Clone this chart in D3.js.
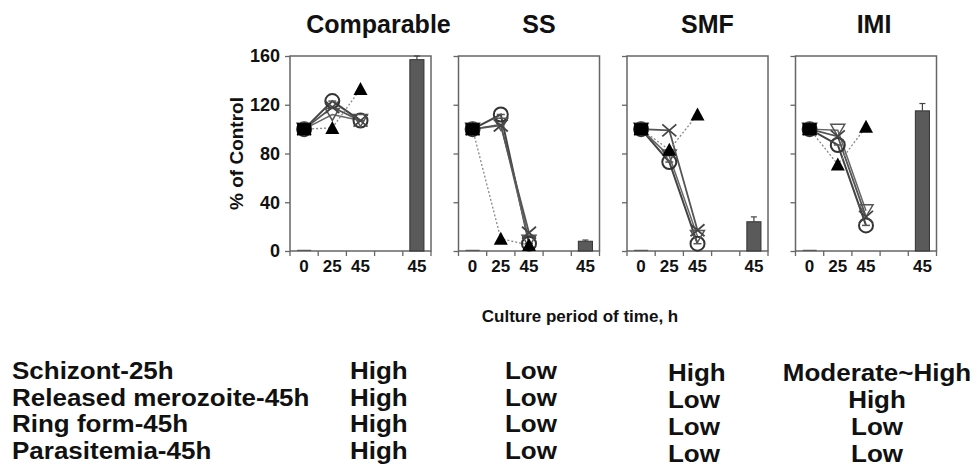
<!DOCTYPE html>
<html>
<head>
<meta charset="utf-8">
<script src="https://cdn.jsdelivr.net/npm/d3@7"></script>
<style>
  body { margin: 0; background: #fff; }
  text { font-family: "Liberation Sans", Arial, Helvetica, sans-serif; font-weight: bold; }
</style>
</head>
<body>
<div id="chart"></div>
<script>
// panels and x categories
var panels = ["Comparable", "SS", "SMF", "IMI"];
var timeCats = ["0", "25", "45", "gap", "45b"];
var timeLabels = ["0", "25", "45", "", "45"];
var lineCats = ["0", "25", "45"];
var yTicks = [0, 40, 80, 120, 160];

// % of control, one array per marker series (per panel: 0h, 25h, 45h)
var circleVals = [[100, 123, 107], [100, 112, 6], [100, 73, 6], [100, 87, 21]];
var crossVals = [[100, 118, 107], [100, 103, 15], [100, 99, 17], [100, 94, 28]];
var downTriVals = [[100, 112, 107], [100, 104, 8], [100, 78, 12], [100, 99, 33]];
var upTriVals = [[100, 101, 133], [100, 10, 5], [100, 83, 112], [100, 71, 102]];

// parasitemia bars at 45h (and the flat control bar at 0h)
var barVals = [157, 8, 24, 115];
var barErr = [3, 1, 4, 6];
var zeroBarVals = [1, 1, 1, 1];

// summary table
var rowNames = ["Schizont-25h", "Released merozoite-45h", "Ring form-45h", "Parasitemia-45h"];
var colComparable = ["High", "High", "High", "High"];
var colSS = ["Low", "Low", "Low", "Low"];
var colSMF = ["High", "Low", "Low", "Low"];
var colIMI = ["Moderate~High", "High", "Low", "Low"];

var svgWidth = 974, svgHeight = 469;
var svg = d3.select("#chart").append("svg")
    .attr("width", svgWidth)
    .attr("height", svgHeight);

var panelW = 141, plotTop = 56, plotBottom = 251;
var panelX = d3.scalePoint().domain(panels).range([290, 795.5]);
var titleShift = [18, 10, 10, 8];

var x = d3.scaleBand().domain(timeCats).range([0, panelW]);
var y = d3.scaleLinear().domain([0, 160]).range([plotBottom, plotTop]);

var series = [
  { vals: circleVals, shape: "circle", stroke: "#444", width: 2, dash: null },
  { vals: downTriVals, shape: "down", stroke: "#666", width: 1.5, dash: null },
  { vals: crossVals, shape: "cross", stroke: "#555", width: 1.8, dash: null },
  { vals: upTriVals, shape: "up", stroke: "#888", width: 1.3, dash: "2,2" }
];

var lineGen = d3.line()
    .x(function(d) { return x(d.t) + x.bandwidth() / 2; })
    .y(function(d) { return y(d.v); });

panels.forEach(function(name, i) {
  var g = svg.append("g").attr("transform", "translate(" + panelX(name) + ",0)");

  // title
  svg.append("text")
    .attr("x", panelX(name) + panelW / 2 + titleShift[i])
    .attr("y", 33)
    .attr("text-anchor", "middle")
    .attr("font-size", "25px")
    .attr("fill", "#111")
    .text(name);

  // axes
  var yAxis = d3.axisLeft(y).tickValues(yTicks).tickSize(5).tickFormat(i === 0 ? d3.format("d") : "");
  var ya = g.append("g").call(yAxis);
  ya.select(".domain").remove();
  ya.selectAll("line").attr("stroke", "#666").attr("stroke-width", 1.3);
  ya.selectAll("text").attr("font-size", "18px").attr("fill", "#111").attr("dx", "-2");

  var xAxis = d3.axisBottom(x).tickSize(0).tickFormat(function(d, k) { return timeLabels[k]; });
  var xa = g.append("g").attr("transform", "translate(0," + plotBottom + ")").call(xAxis);
  xa.select(".domain").remove();
  xa.selectAll("text").attr("font-size", "17px").attr("fill", "#111").attr("dy", "1.05em");
  // ticks at band edges
  g.selectAll(".xtick").data(timeCats.concat(["end"])).enter().append("line")
    .attr("x1", function(d) { return d === "end" ? panelW : x(d); })
    .attr("x2", function(d) { return d === "end" ? panelW : x(d); })
    .attr("y1", plotBottom).attr("y2", plotBottom + 5)
    .attr("stroke", "#666").attr("stroke-width", 1.3);

  // frame
  g.append("rect")
    .attr("x", 0).attr("y", plotTop)
    .attr("width", panelW).attr("height", plotBottom - plotTop)
    .attr("fill", "none").attr("stroke", "#666").attr("stroke-width", 1.5);

  // bars
  var bw = x.bandwidth() / 2;
  g.append("rect")
    .attr("x", x("0") + bw / 2).attr("width", bw)
    .attr("y", y(zeroBarVals[i])).attr("height", plotBottom - y(zeroBarVals[i]))
    .attr("fill", "#555");
  g.append("rect")
    .attr("x", x("45b") + bw / 2).attr("width", bw)
    .attr("y", y(barVals[i])).attr("height", plotBottom - y(barVals[i]))
    .attr("fill", "#5a5a5a").attr("stroke", "#333").attr("stroke-width", 1);
  var cx = x("45b") + x.bandwidth() / 2;
  g.append("line").attr("x1", cx).attr("x2", cx)
    .attr("y1", y(barVals[i])).attr("y2", y(barVals[i] + barErr[i]))
    .attr("stroke", "#444").attr("stroke-width", 1.2);
  g.append("line").attr("x1", cx - 3).attr("x2", cx + 3)
    .attr("y1", y(barVals[i] + barErr[i])).attr("y2", y(barVals[i] + barErr[i]))
    .attr("stroke", "#444").attr("stroke-width", 1.2);

  // lines
  series.forEach(function(s) {
    var pts = lineCats.map(function(t, k) { return { t: t, v: s.vals[i][k] }; });
    g.append("path").datum(pts)
      .attr("d", lineGen)
      .attr("fill", "none")
      .attr("stroke", s.stroke)
      .attr("stroke-width", s.width)
      .attr("stroke-dasharray", s.dash);
  });

  // markers
  series.forEach(function(s) {
    var pts = lineCats.map(function(t, k) { return { t: t, v: s.vals[i][k] }; });
    var m = g.selectAll(null).data(pts).enter().append("g")
      .attr("transform", function(d) {
        return "translate(" + (x(d.t) + x.bandwidth() / 2) + "," + y(d.v) + ")";
      });
    if (s.shape === "circle") {
      m.append("circle").attr("r", 7).attr("fill", "none").attr("stroke", "#333").attr("stroke-width", 2);
      m.append("line").attr("x1", -4).attr("x2", 4).attr("stroke", "#555").attr("stroke-width", 1.5);
    } else if (s.shape === "cross") {
      m.append("path").attr("d", "M-7,-6L7,6M-7,6L7,-6")
        .attr("stroke", "#444").attr("stroke-width", 1.8);
    } else if (s.shape === "down") {
      m.append("path").attr("d", "M-7,-6L7,-6L0,6Z")
        .attr("fill", "none").attr("stroke", "#555").attr("stroke-width", 1.5);
    } else {
      m.append("path").attr("d", "M-7,6L7,6L0,-7Z").attr("fill", "#000");
    }
  });
  // square marker where series overlap at 0h
  g.append("rect")
    .attr("x", x("0") + x.bandwidth() / 2 - 7).attr("y", y(100) - 6)
    .attr("width", 14).attr("height", 12).attr("fill", "#000");
});

// axis titles
svg.append("text")
  .attr("transform", "translate(243," + (plotTop + plotBottom) / 2 + ") rotate(-90)")
  .attr("text-anchor", "middle")
  .attr("font-size", "19px")
  .attr("fill", "#111")
  .text("% of Control");

svg.append("text")
  .attr("x", 580).attr("y", 322)
  .attr("text-anchor", "middle")
  .attr("font-size", "17px")
  .attr("fill", "#111")
  .text("Culture period of time, h");

// table (glyphs a little wider than the font, like the original)
var rowY = d3.scaleLinear().domain([0, 3]).range([379, 459]);
var rowY2 = d3.scaleLinear().domain([0, 3]).range([381, 462]);
var cols = [
  { vals: rowNames, x: 12, anchor: "start", ys: rowY },
  { vals: colComparable, x: 350, anchor: "start", ys: rowY },
  { vals: colSS, x: 505, anchor: "start", ys: rowY },
  { vals: colSMF, x: 668, anchor: "start", ys: rowY2 },
  { vals: colIMI, x: 877, anchor: "middle", ys: rowY2 }
];
cols.forEach(function(c) {
  svg.selectAll(null).data(c.vals).enter().append("text")
    .attr("transform", function(d, k) { return "translate(" + c.x + "," + c.ys(k) + ") scale(1.13,1)"; })
    .attr("text-anchor", c.anchor)
    .attr("font-size", "23px")
    .attr("fill", "#111")
    .text(function(d) { return d; });
});
</script>
</body>
</html>
